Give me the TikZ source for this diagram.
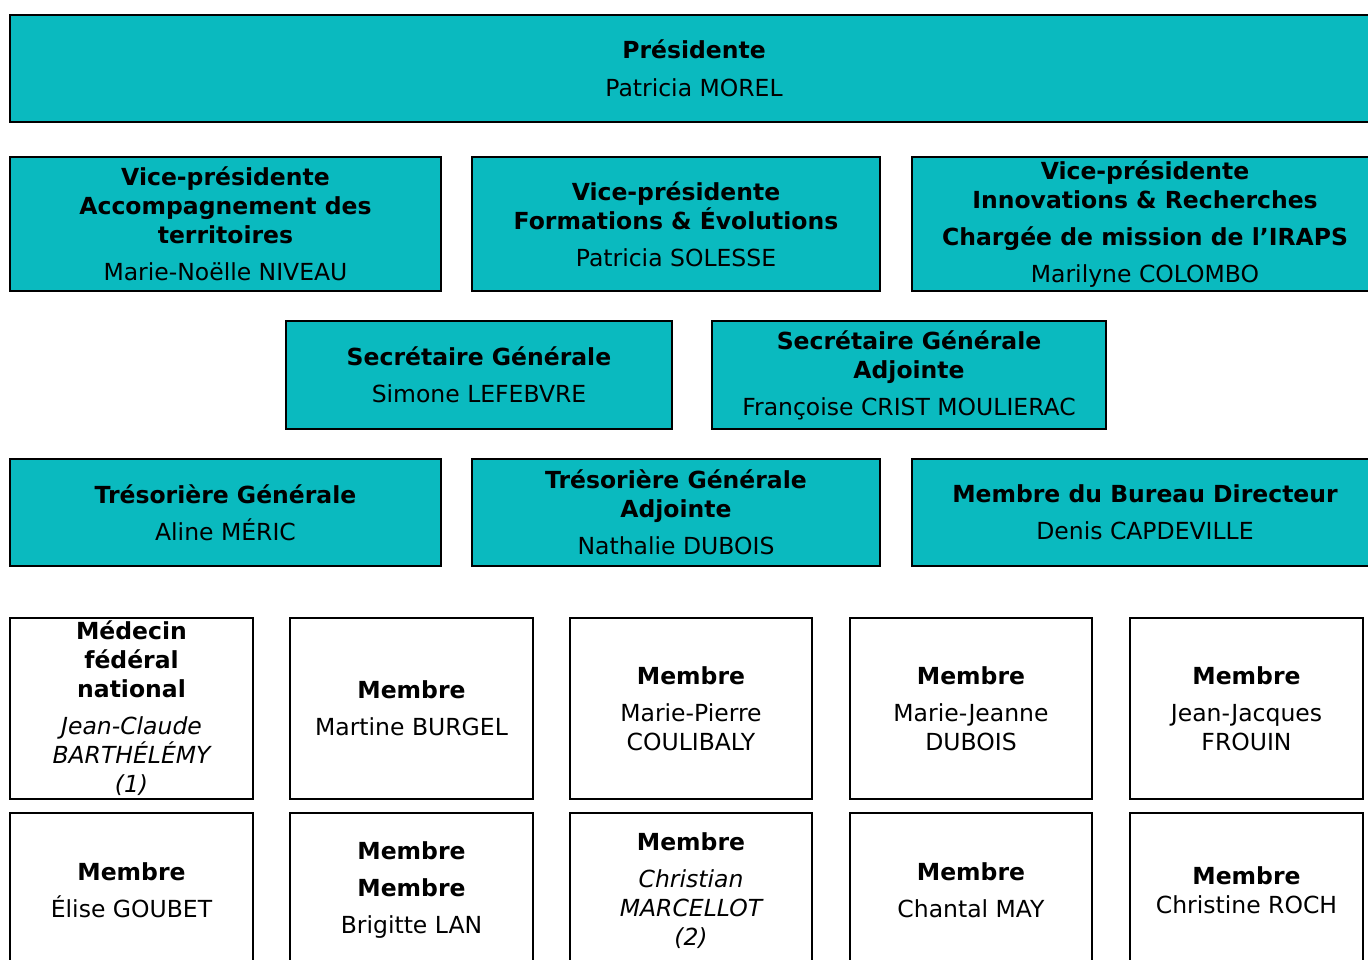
\documentclass[tikz,border=0pt]{standalone}
\usepackage{fontspec}
\setmainfont{DejaVu Sans}
\definecolor{bureauteal}{RGB}{10,186,191}

\begin{document}
\begin{tikzpicture}[x=1pt,y=-1pt]
% Styles of the boxes
\tikzset{teal box/.style={draw=black,line width=2pt,fill=bureauteal,inner sep=0pt,align=center,font=\fontsize{23.5}{29}\selectfont}}
\tikzset{white box/.style={teal box,fill=white}}
\useasboundingbox (0,0) rectangle (1368,960);
\clip (0,0) rectangle (1368,960);

% Presidente
\node[teal box,minimum width=1368pt,minimum height=107pt] (presidente) at (694,68.5)
  {\bfseries Présidente\\[9pt]Patricia MOREL};

% Vice-presidentes
\node[teal box,minimum width=431pt,minimum height=134pt] (vpTerritoires) at (225.5,224)
  {\bfseries Vice-présidente\\\bfseries Accompagnement des\\\bfseries territoires\\[8pt]Marie-Noëlle NIVEAU};
\node[teal box,minimum width=408pt,minimum height=134pt] (vpFormations) at (676,224)
  {\bfseries Vice-présidente\\\bfseries Formations \& Évolutions\\[8pt]Patricia SOLESSE};
\node[teal box,minimum width=466pt,minimum height=134pt] (vpInnovations) at (1145,224)
  {\bfseries Vice-présidente\\\bfseries Innovations \& Recherches\\[8pt]\bfseries Chargée de mission de l’IRAPS\\[8pt]Marilyne COLOMBO};

% Secretaires
\node[teal box,minimum width=386pt,minimum height=108pt] (secGen) at (479,375)
  {\bfseries Secrétaire Générale\\[8pt]Simone LEFEBVRE};
\node[teal box,minimum width=394pt,minimum height=108pt] (secGenAdj) at (909,375)
  {\bfseries Secrétaire Générale\\\bfseries Adjointe\\[8pt]Françoise CRIST MOULIERAC};

% Tresorieres
\node[teal box,minimum width=431pt,minimum height=107pt] (tresGen) at (225.5,512.5)
  {\bfseries Trésorière Générale\\[8pt]Aline MÉRIC};
\node[teal box,minimum width=408pt,minimum height=107pt] (tresGenAdj) at (676,512.5)
  {\bfseries Trésorière Générale\\\bfseries Adjointe\\[8pt]Nathalie DUBOIS};
\node[teal box,minimum width=466pt,minimum height=107pt] (membreBD) at (1145,512.5)
  {\bfseries Membre du Bureau Directeur\\[8pt]Denis CAPDEVILLE};

% Membres -- first row
\node[white box,minimum width=243pt,minimum height=181pt] (medecin) at (131.5,708.5)
  {\bfseries Médecin\\\bfseries fédéral\\\bfseries national\\[8pt]\itshape Jean-Claude\\\itshape BARTHÉLÉMY\\\itshape (1)};
\node[white box,minimum width=243pt,minimum height=181pt] (burgel) at (411.5,708.5)
  {\bfseries Membre\\[8pt]Martine BURGEL};
\node[white box,minimum width=242pt,minimum height=181pt] (coulibaly) at (691,708.5)
  {\bfseries Membre\\[8pt]Marie-Pierre\\COULIBALY};
\node[white box,minimum width=242pt,minimum height=181pt] (dubois) at (971,708.5)
  {\bfseries Membre\\[8pt]Marie-Jeanne\\DUBOIS};
\node[white box,minimum width=233pt,minimum height=181pt] (frouin) at (1246.5,708.5)
  {\bfseries Membre\\[8pt]Jean-Jacques\\FROUIN};

% Membres -- second row
\node[white box,minimum width=243pt,minimum height=155pt] (goubet) at (131.5,890.5)
  {\bfseries Membre\\[8pt]Élise GOUBET};
\node[white box,minimum width=243pt,minimum height=155pt] (lan) at (411.5,890.5)
  {\bfseries Membre\\[8pt]\bfseries Membre\\[8pt]Brigitte LAN};
\node[white box,minimum width=242pt,minimum height=155pt] (marcellot) at (691,890.5)
  {\bfseries Membre\\[8pt]\itshape Christian\\\itshape MARCELLOT\\\itshape (2)};
\node[white box,minimum width=242pt,minimum height=155pt] (may) at (971,890.5)
  {\bfseries Membre\\[8pt]Chantal MAY};
\node[white box,minimum width=233pt,minimum height=155pt] (roch) at (1246.5,890.5)
  {\bfseries Membre\\Christine ROCH};
\end{tikzpicture}
\end{document}
